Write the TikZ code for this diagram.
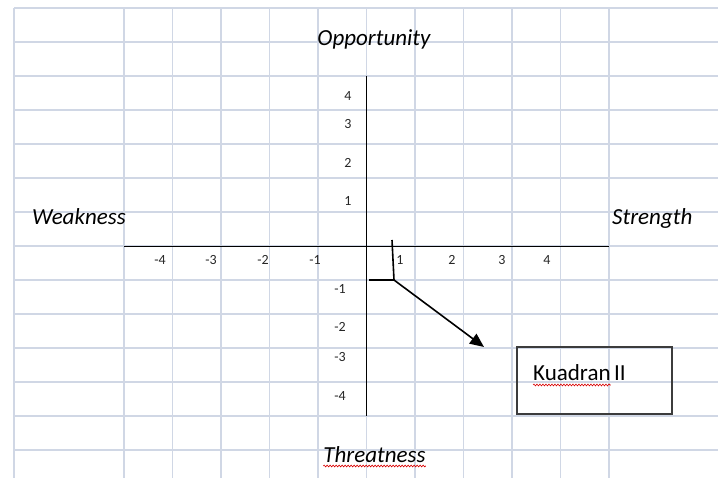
\documentclass[tikz,border=0pt]{standalone}
\usepackage{fontspec}
\setmainfont{Carlito}
\usetikzlibrary{arrows.meta,decorations.pathmorphing}
\definecolor{gridblue}{RGB}{208,215,229}
\definecolor{boxgray}{RGB}{60,60,60}
\begin{document}
\begin{tikzpicture}[x=1pt,y=-1pt,every node/.style={inner sep=0pt},
    axislabel/.style={font=\fontsize{23}{26}\selectfont\itshape},
    ticklabel/.style={font=\fontsize{14}{16}\selectfont,text=black!85},
    gridline/.style={gridblue,line width=1.3pt},
    squiggle/.style={draw=red!85!black,line width=0.6pt,decorate,decoration={snake,amplitude=0.9pt,segment length=3pt}}]
    \useasboundingbox (0,0) rectangle (718,478);
    % sheet grid
    \foreach \gy in {8,42,...,450} \draw[gridline] (14,\gy) -- (718,\gy);
    \draw[gridline] (14,8) -- (14,478);
    \foreach \gx in {124,172.5,...,609} \draw[gridline] (\gx,8) -- (\gx,478);
    % axes
    \coordinate (xl) at (124,247);
    \coordinate (xr) at (609,247);
    \coordinate (yt) at (366,76);
    \coordinate (yb) at (366,416);
    \draw[black,line width=1pt] (xl) -- (xr);
    \draw[black,line width=1pt] (yt) -- (yb);
    \node[axislabel,anchor=base] (opp) at (374,46) {Opportunity};
    \node[axislabel,anchor=base west] (weak) at (32,225) {Weakness};
    \node[axislabel,anchor=base west] (strg) at (612,225) {Strength};
    \node[axislabel,anchor=base] (thrt) at (374.5,462) {Threatness};
    \draw[squiggle] ([yshift=-4pt]thrt.base west) -- ([yshift=-4pt]thrt.base east);
    % tick numbers
    \foreach \tx/\tl in {160/-4,211/-3,263/-2,315/-1,400/1,452/2,502/3,547/4}
        \node[ticklabel] (xt\tx) at (\tx,260) {\tl};
    \foreach \ty/\tl in {96/4,124/3,163/2,201/1}
        \node[ticklabel] (yt\ty) at (348,\ty) {\tl};
    \foreach \ty/\tl in {289/-1,327/-2,357/-3,396/-4}
        \node[ticklabel] (yt\ty) at (340,\ty) {\tl};
    % marker and arrow
    \coordinate (hook) at (369,280);
    \coordinate (corner) at (394,280);
    \coordinate (stem) at (392,240);
    \coordinate (tip) at (484,347);
    \draw[line width=1.6pt] (hook) -- (corner) -- (stem);
    \draw[line width=1.6pt,-{Triangle[length=14pt,width=12pt]}] (corner) -- (tip);
    % quadrant box
    \node[draw=boxgray,line width=1.6pt,minimum width=155pt,minimum height=67pt] (kbox) at (594.5,380.5) {};
    \node[anchor=base west,font=\fontsize{23}{26}\selectfont] (kword) at (533,381) {Kuadran};
    \node[anchor=base west,font=\fontsize{23}{26}\selectfont] (knum) at ([xshift=3pt]kword.base east) {II};
    \draw[squiggle] ([yshift=-4pt]kword.base west) -- ([yshift=-4pt]kword.base east);
\end{tikzpicture}
\end{document}
